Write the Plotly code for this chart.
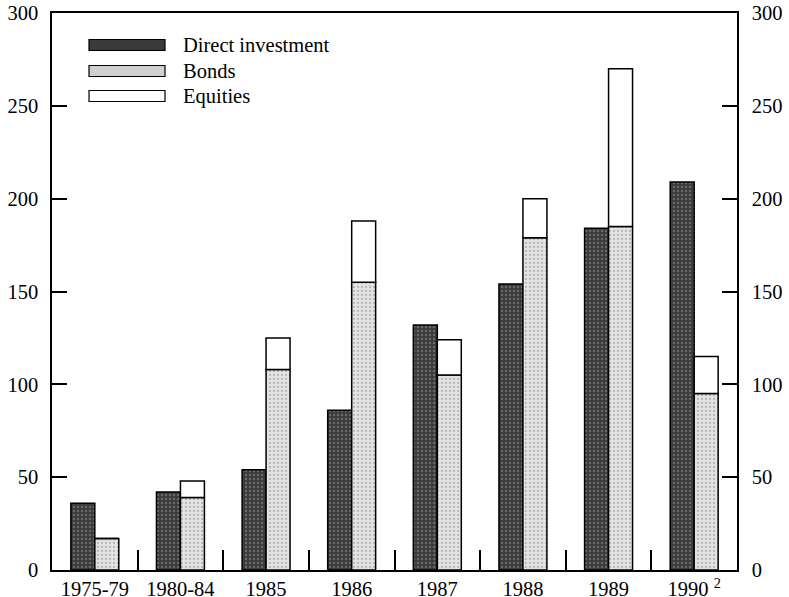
import plotly.graph_objects as go

categories = ["1975-79", "1980-84", "1985", "1986", "1987", "1988", "1989", "1990 <sup>2</sup>"]
direct_investment = [36, 42, 54, 86, 132, 154, 184, 209]
bonds = [17, 39, 108, 155, 105, 179, 185, 95]
equities = [0, 9, 17, 33, 19, 21, 85, 20]
y_ticks = [0, 50, 100, 150, 200, 250, 300]
legend_names = ["Direct investment", "Bonds", "Equities"]

FONT = "Liberation Serif, Times New Roman, serif"
FS = 20.5
W, H = 789, 597
L, R, T, B = 52, 52, 13, 27

DI_BG, DI_FG = "#3a3a3a", "#9a9a9a"
BO_BG, BO_FG = "#e4e4e4", "#8a8a8a"

fig = go.Figure()
fig.add_trace(go.Bar(
    x=categories, y=direct_investment, name=legend_names[0], offsetgroup="di",
    marker=dict(color=DI_BG, line=dict(color="black", width=1.5),
                pattern=dict(shape=".", bgcolor=DI_BG, fgcolor=DI_FG, size=4, solidity=0.3)),
    showlegend=False))
fig.add_trace(go.Bar(
    x=categories, y=bonds, name=legend_names[1], offsetgroup="bd",
    marker=dict(color=BO_BG, line=dict(color="black", width=1.5),
                pattern=dict(shape=".", bgcolor=BO_BG, fgcolor=BO_FG, size=4, solidity=0.25)),
    showlegend=False))
fig.add_trace(go.Bar(
    x=categories, y=equities, base=bonds, name=legend_names[2], offsetgroup="bd",
    marker=dict(color="white", line=dict(color="black", width=1.5)),
    showlegend=False))
# invisible trace to anchor right axis
fig.add_trace(go.Scatter(x=categories, y=direct_investment, yaxis="y2", mode="lines",
                         line=dict(width=0, color="rgba(0,0,0,0)"), showlegend=False,
                         hoverinfo="skip"))

axis_font = dict(family=FONT, size=FS, color="black")
fig.update_layout(
    width=W, height=H,
    margin=dict(l=L, r=R, t=T, b=B, autoexpand=False),
    plot_bgcolor="white", paper_bgcolor="white",
    barmode="group", bargap=0.44, bargroupgap=0,
    font=axis_font,
    xaxis=dict(showline=True, linecolor="black", linewidth=1.5, mirror=True,
               ticks="inside", tickson="boundaries", ticklen=20, tickwidth=1.5,
               tickcolor="black", tickfont=axis_font, showgrid=False, zeroline=False,
               automargin=False, ticklabelstandoff=0, ticklabeloverflow="allow"),
    yaxis=dict(range=[0, 300], tickvals=y_ticks, showline=True, linecolor="black",
               linewidth=1.5, ticks="inside", ticklen=15, tickwidth=1.5, tickcolor="black",
               tickfont=axis_font, showgrid=False, zeroline=False, automargin=False,
               ticklabelstandoff=8, ticklabeloverflow="allow"),
    yaxis2=dict(range=[0, 300], tickvals=y_ticks, overlaying="y", side="right",
                showline=True, linecolor="black", linewidth=1.5, ticks="inside",
                ticklen=15, tickwidth=1.5, tickcolor="black", tickfont=axis_font,
                showgrid=False, zeroline=False, automargin=False, ticklabelstandoff=9,
                ticklabeloverflow="allow"),
)

# manual legend (wide swatches); coordinates given in page pixels
pw = W - L - R
ph = H - T - B
def px_x(x):
    return (x - L) / pw
def px_y(y):
    return (H - B - y) / ph

centers = [45, 71, 96]
fills = [DI_BG, "#d0d0d0", "white"]
for c, f, name in zip(centers, fills, legend_names):
    fig.add_shape(type="rect", xref="paper", yref="paper",
                  x0=px_x(89), x1=px_x(165), y0=px_y(c + 5.5), y1=px_y(c - 5.5),
                  fillcolor=f, line=dict(color="black", width=1.2))
    fig.add_annotation(xref="paper", yref="paper", x=px_x(181), y=px_y(c),
                       text=name, showarrow=False, xanchor="left", yanchor="middle",
                       font=dict(family=FONT, size=FS, color="black"))

fig.write_html("out.html", config={"displayModeBar": False},
               post_script="document.body.style.margin='0';document.body.style.overflow='hidden';")
